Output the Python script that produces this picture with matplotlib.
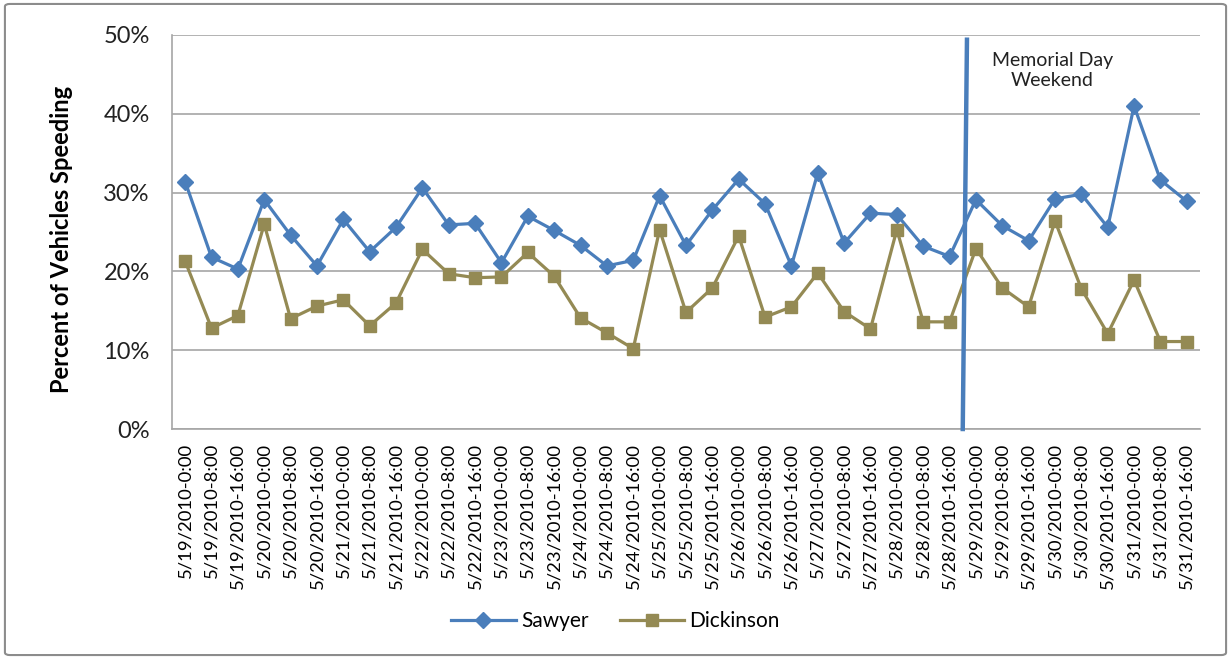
import numpy as np
import matplotlib
matplotlib.use("Agg")
import matplotlib.pyplot as plt
from matplotlib.patches import FancyBboxPatch
from matplotlib.ticker import PercentFormatter

# 8-hour counting periods, 5/19 through 5/31
days = list(range(19, 32))
hours = [0, 8, 16]
periods = [f"5/{d}/2010-{h}:00" for d in days for h in hours]

# share of vehicles over the limit in each period
sawyer = [0.314, 0.218, 0.203, 0.291, 0.246, 0.207, 0.266, 0.225, 0.256, 0.306,
          0.259, 0.261, 0.211, 0.270, 0.252, 0.233, 0.207, 0.214, 0.296, 0.233,
          0.278, 0.317, 0.286, 0.207, 0.325, 0.236, 0.274, 0.272, 0.232, 0.219,
          0.291, 0.258, 0.239, 0.292, 0.298, 0.256, 0.410, 0.316, 0.289]
dickinson = [0.213, 0.128, 0.144, 0.260, 0.140, 0.156, 0.164, 0.131, 0.160, 0.228,
             0.197, 0.192, 0.193, 0.224, 0.194, 0.141, 0.122, 0.102, 0.253, 0.148,
             0.179, 0.245, 0.142, 0.155, 0.198, 0.149, 0.127, 0.253, 0.136, 0.136,
             0.229, 0.179, 0.155, 0.264, 0.178, 0.121, 0.189, 0.111, 0.111]

# hand-drawn marker for the holiday weekend (category units, fraction)
holiday_x = [29.5, 29.66]
holiday_y = [0.0, 0.494]

blue = "#4A7EBB"
olive = "#948A54"
grid_grey = "#A6A6A6"

plt.rcParams['font.family'] = ['Lato', 'DejaVu Sans']

fig = plt.figure(figsize=(12.31, 6.59), dpi=100)
ax = fig.add_axes([0.1397, 0.349, 0.8351, 0.5979])

x = np.arange(len(periods))
ax.plot(x, sawyer, color=blue, lw=2.3, marker='D', ms=8, label="Sawyer")
ax.plot(x, dickinson, color=olive, lw=2.3, marker='s', ms=8, label="Dickinson")

ax.plot(holiday_x, holiday_y, color=blue, lw=3.2, clip_on=False, zorder=4)
ax.text(32.9, 0.455, "Memorial Day\nWeekend", ha='center', va='center',
        fontsize=14, color="#222222", linespacing=1.25)

ax.set_xlim(-0.5, len(periods) - 0.5)
ax.set_ylim(0, 0.5)
ax.set_yticks(np.arange(0, 0.51, 0.1))
ax.yaxis.set_major_formatter(PercentFormatter(1.0, decimals=0))
ax.set_xticks(x)
ax.set_xticklabels(periods, rotation=90, fontsize=13.3, va='top', ha='center')
ax.tick_params(axis='x', length=0, pad=10)
ax.tick_params(axis='y', length=0, pad=16, labelsize=17, labelcolor="#222222")

ax.grid(axis='y', color=grid_grey, lw=1.2)
ax.set_axisbelow(True)
for side in ['top', 'right']:
    ax.spines[side].set_visible(False)
for side in ['left', 'bottom']:
    ax.spines[side].set_color(grid_grey)
    ax.spines[side].set_linewidth(1.2)

ax.set_ylabel("Percent of Vehicles Speeding", fontsize=17, fontweight='bold')
ax.yaxis.set_label_coords(-0.0963, 0.48)

fig.legend(loc='center', bbox_to_anchor=(0.5, 0.057), ncol=2, frameon=False,
           fontsize=15, handlelength=3.1, columnspacing=1.5, handletextpad=0.25)

# light grey frame round the whole chart
frame = FancyBboxPatch((0.004, 0.006), 0.992, 0.988, boxstyle="round,pad=0,rounding_size=0.004",
                       transform=fig.transFigure, fill=False, edgecolor="#8C8C8C", lw=1.5)
fig.patches.append(frame)

fig.savefig("out.png", dpi=100)
